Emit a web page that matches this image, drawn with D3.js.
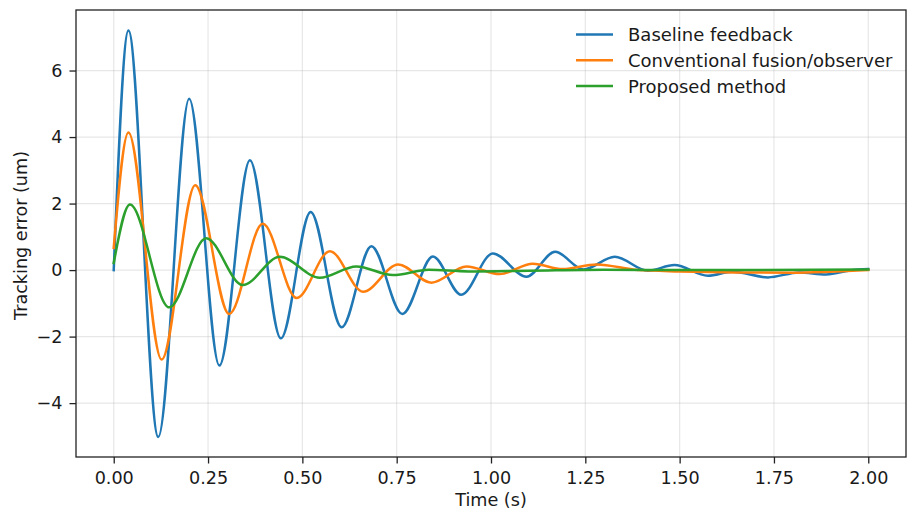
<!DOCTYPE html>
<html>
<head>
<meta charset="utf-8">
<script src="https://cdn.jsdelivr.net/npm/d3@7"></script>
<style>
  html, body { margin: 0; padding: 0; background: #fff; }
  text { font-family: "DejaVu Sans", sans-serif; fill: #1a1a1a; }
</style>
</head>
<body>
<svg id="chart" width="911" height="530"></svg>
<script>
// ---- data (time in s, error in um) ----
const seriesNames = ["Baseline feedback", "Conventional fusion/observer", "Proposed method"];
const seriesColors = ["#1f77b4", "#ff7f0e", "#2ca02c"];

const tBase = [0, 0.039, 0.118, 0.2, 0.28, 0.361, 0.443, 0.522, 0.604, 0.683, 0.765, 0.846, 0.921, 1.005, 1.094, 1.17, 1.245, 1.328, 1.416, 1.486, 1.575, 1.64, 1.734, 1.817, 1.888, 1.96, 2.0];
const vBase = [0, 7.2, -5.02, 5.15, -2.87, 3.3, -2.05, 1.75, -1.72, 0.72, -1.32, 0.41, -0.74, 0.5, -0.2, 0.55, 0.02, 0.4, -0.02, 0.15, -0.17, -0.05, -0.22, -0.07, -0.13, 0.0, 0.03];

const tConv = [0, 0.039, 0.127, 0.216, 0.306, 0.395, 0.485, 0.573, 0.661, 0.754, 0.842, 0.935, 1.023, 1.111, 1.19, 1.28, 1.39, 1.5, 1.65, 1.8, 1.9, 2.0];
const vConv = [0.67, 4.14, -2.69, 2.55, -1.32, 1.39, -0.84, 0.57, -0.65, 0.17, -0.38, 0.11, -0.12, 0.19, 0.03, 0.17, 0.0, -0.04, -0.07, -0.08, -0.05, 0.0];

const tProp = [0, 0.043, 0.147, 0.245, 0.342, 0.44, 0.546, 0.643, 0.74, 0.835, 0.94, 1.1, 1.3, 1.5, 1.7, 2.0];
const vProp = [0.21, 1.97, -1.12, 0.96, -0.45, 0.4, -0.23, 0.11, -0.15, 0.01, -0.04, -0.02, 0.01, 0.0, 0.0, 0.02];

const xTicks = [0, 0.25, 0.5, 0.75, 1.0, 1.25, 1.5, 1.75, 2.0];
const yTicks = [-4, -2, 0, 2, 4, 6];
const xLabel = "Time (s)";
const yLabel = "Tracking error (um)";

// ---- layout ----
const svg = d3.select("#chart");
const L = 76, R = 906, T = 10, B = 457;
const x = d3.scaleLinear().domain([-0.1, 2.1]).range([L, R]);
const y = d3.scaleLinear().domain([-5.62, 7.82]).range([B, T]);
const FS = 17.6;

const series = [
  { name: seriesNames[0], color: seriesColors[0], pts: tBase.map((t, i) => [t, vBase[i]]) },
  { name: seriesNames[1], color: seriesColors[1], pts: tConv.map((t, i) => [t, vConv[i]]) },
  { name: seriesNames[2], color: seriesColors[2], pts: tProp.map((t, i) => [t, vProp[i]]) }
];

// grid
const grid = svg.append("g");
grid.selectAll("line.gx").data(xTicks).join("line")
  .attr("x1", d => x(d)).attr("x2", d => x(d)).attr("y1", T).attr("y2", B)
  .attr("stroke", "#b0b0b0").attr("stroke-opacity", 0.3).attr("stroke-width", 1.2);
grid.selectAll("line.gy").data(yTicks).join("line")
  .attr("y1", d => y(d)).attr("y2", d => y(d)).attr("x1", L).attr("x2", R)
  .attr("stroke", "#b0b0b0").attr("stroke-opacity", 0.3).attr("stroke-width", 1.2);

// lines
const line = d3.line().x(d => x(d[0])).y(d => y(d[1])).curve(d3.curveMonotoneX);
svg.append("clipPath").attr("id", "clip").append("rect")
  .attr("x", L).attr("y", T).attr("width", R - L).attr("height", B - T);
svg.append("g").attr("clip-path", "url(#clip)")
  .selectAll("path").data(series).join("path")
  .attr("d", d => line(d.pts))
  .attr("fill", "none").attr("stroke", d => d.color)
  .attr("stroke-width", 2.5).attr("stroke-linejoin", "round").attr("stroke-linecap", "square");

// axes
const xAxis = d3.axisBottom(x).tickValues(xTicks).tickFormat(d3.format(".2f"))
  .tickSize(6.5).tickSizeOuter(0).tickPadding(8);
const gx = svg.append("g").attr("transform", `translate(0,${B})`).call(xAxis);
gx.select(".domain").remove();
gx.selectAll(".tick line").attr("stroke", "#222").attr("stroke-width", 1.3);
gx.selectAll(".tick text").attr("font-size", FS).attr("fill", "#1a1a1a")
  .attr("font-family", "DejaVu Sans, sans-serif");

const yAxis = d3.axisLeft(y).tickValues(yTicks).tickFormat(d3.format("d"))
  .tickSize(6.5).tickSizeOuter(0).tickPadding(7);
const gy = svg.append("g").attr("transform", `translate(${L},0)`).call(yAxis);
gy.select(".domain").remove();
gy.selectAll(".tick line").attr("stroke", "#222").attr("stroke-width", 1.3);
gy.selectAll(".tick text").attr("font-size", FS).attr("fill", "#1a1a1a")
  .attr("font-family", "DejaVu Sans, sans-serif");

// frame
svg.append("rect").attr("x", L).attr("y", T).attr("width", R - L).attr("height", B - T)
  .attr("fill", "none").attr("stroke", "#222").attr("stroke-width", 1.3);

// labels
svg.append("text").attr("x", (L + R) / 2).attr("y", 506).attr("text-anchor", "middle")
  .attr("font-size", FS).text(xLabel);
svg.append("text").attr("transform", `translate(27,${(T + B) / 2 + 2}) rotate(-90)`)
  .attr("text-anchor", "middle").attr("font-size", FS).text(yLabel);

// legend
const lg = svg.append("g");
series.forEach((s, i) => {
  const cy = 34.5 + i * 25.8;
  lg.append("line").attr("x1", 576).attr("x2", 613).attr("y1", cy).attr("y2", cy)
    .attr("stroke", s.color).attr("stroke-width", 2.5);
  lg.append("text").attr("x", 628).attr("y", cy).attr("dy", "0.36em")
    .attr("font-size", 18).text(s.name);
});
</script>
</body>
</html>
